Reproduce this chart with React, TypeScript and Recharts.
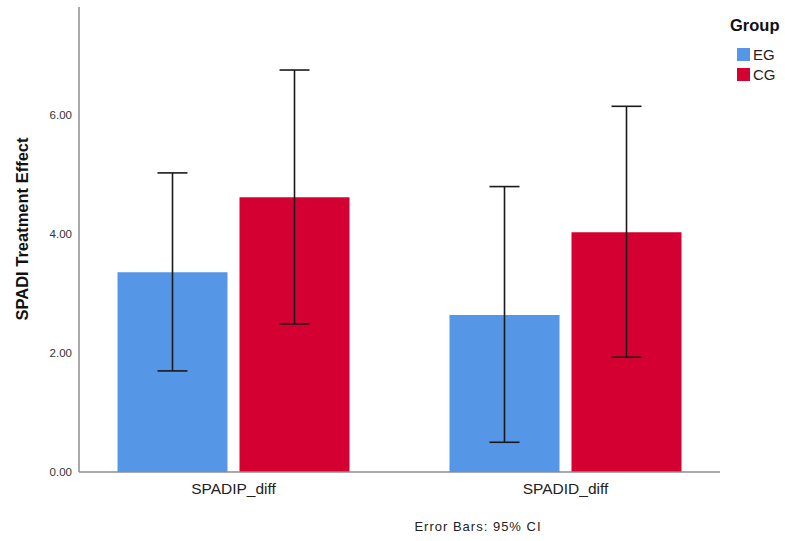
import React from 'react';
import { BarChart, Bar, XAxis, YAxis, ErrorBar, Label } from 'recharts';

const variables = ['SPADIP_diff', 'SPADID_diff'];
const egMeans = [3.36, 2.64];
const egLower = [1.70, 0.50];
const egUpper = [5.03, 4.80];
const cgMeans = [4.62, 4.03];
const cgLower = [2.49, 1.93];
const cgUpper = [6.76, 6.15];
const yTicks = [0, 2, 4, 6];

const EG_COLOR = '#5596E6';
const CG_COLOR = '#D50032';
const FONT = 'Arial, "Liberation Sans", sans-serif';

const data = variables.map((name, i) => ({
    name,
    eg: egMeans[i],
    egErr: [egMeans[i] - egLower[i], egUpper[i] - egMeans[i]],
    cg: cgMeans[i],
    cgErr: [cgMeans[i] - cgLower[i], cgUpper[i] - cgMeans[i]],
}));

const AxisTitle = () => (
    <text
        x={22}
        y={229}
        transform="rotate(-90, 22, 229)"
        textAnchor="middle"
        dominantBaseline="central"
        fontFamily={FONT}
        fontSize={16.5}
        fontWeight="bold"
        fill="#111"
    >
        SPADI Treatment Effect
    </text>
);

export default function App() {
    return (
        <div style={{ position: 'absolute', left: 0, top: 0, width: 785, height: 541, background: '#fff', fontFamily: FONT }}>
            <BarChart
                width={785}
                height={541}
                data={data}
                margin={{ top: 7, right: 65, bottom: 0, left: 0 }}
                barSize={110}
                barGap={12}
            >
                <XAxis
                    dataKey="name"
                    height={69}
                    padding={{ left: -11.5, right: -11.5 }}
                    tickLine={false}
                    axisLine={{ stroke: '#8c8c8c', strokeWidth: 1.5 }}
                    tick={{ fill: '#222', fontSize: 15.5, fontFamily: FONT }}
                    tickMargin={5}
                />
                <YAxis
                    width={79}
                    domain={[0, 7.82]}
                    ticks={yTicks}
                    tickFormatter={(v: number) => v.toFixed(2)}
                    tickLine={false}
                    axisLine={{ stroke: '#8c8c8c', strokeWidth: 1.5 }}
                    tick={{ fill: '#333', fontSize: 11.5, fontFamily: FONT }}
                    tickMargin={1}
                >
                    <Label content={<AxisTitle />} />
                </YAxis>
                <Bar dataKey="eg" fill={EG_COLOR} isAnimationActive={false}>
                    <ErrorBar dataKey="egErr" width={15} stroke="#1a1a1a" strokeWidth={1.6} direction="y" isAnimationActive={false} />
                </Bar>
                <Bar dataKey="cg" fill={CG_COLOR} isAnimationActive={false}>
                    <ErrorBar dataKey="cgErr" width={15} stroke="#1a1a1a" strokeWidth={1.6} direction="y" isAnimationActive={false} />
                </Bar>
            </BarChart>

            {/* legend */}
            <div style={{ position: 'absolute', left: 730, top: 16, fontSize: 16.5, fontWeight: 'bold', color: '#111' }}>Group</div>
            {[['EG', EG_COLOR, 47], ['CG', CG_COLOR, 67]].map(([label, color, top]) => (
                <div key={label as string} style={{ position: 'absolute', left: 737, top: top as number, display: 'flex', alignItems: 'center', fontSize: 15, color: '#222', lineHeight: '15px' }}>
                    <span style={{ display: 'inline-block', width: 13, height: 13, background: color as string, marginRight: 3 }} />
                    {label}
                </div>
            ))}

            <div style={{ position: 'absolute', left: 0, width: 956, top: 519, textAlign: 'center', fontSize: 13, letterSpacing: 1, color: '#222' }}>
                Error Bars: 95% CI
            </div>
        </div>
    );
}
